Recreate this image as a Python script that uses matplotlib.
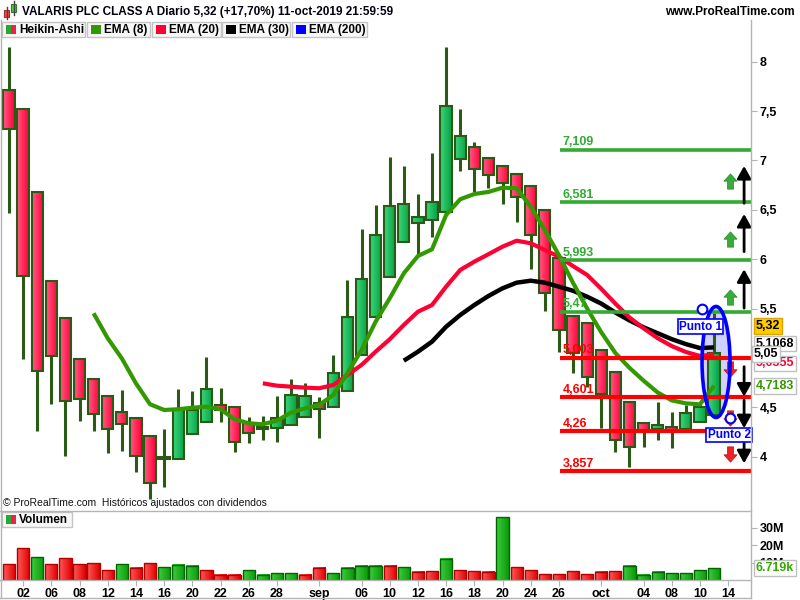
import numpy as np
import matplotlib
matplotlib.use('Agg')
import matplotlib.pyplot as plt
from matplotlib.patches import Rectangle, Ellipse
from matplotlib.path import Path
from matplotlib.colors import to_rgb
from matplotlib.transforms import blended_transform_factory

plt.rcParams['font.family'] = ['Liberation Sans', 'DejaVu Sans']

# ---------------- data ----------------
ha_open = [7.713, 7.521, 6.681, 5.782, 5.408, 4.989, 4.787, 4.615, 4.453, 4.395,
           4.210, 3.974, 3.980, 4.230, 4.354, 4.524, 4.506, 4.338, 4.277, 4.288,
           4.321, 4.399, 4.541, 4.506, 4.668, 5.030, 5.411, 5.823, 6.177, 6.364,
           6.397, 6.481, 7.015, 7.133, 7.028, 6.944, 6.863, 6.744, 6.498, 6.009,
           5.425, 5.357, 5.080, 4.861, 4.551, 4.338, 4.277, 4.297, 4.277, 4.354,
           4.422]
ha_close = [7.318, 5.830, 4.868, 5.020, 4.567, 4.581, 4.432, 4.277, 4.328, 4.007,
            3.737, 4.000, 4.483, 4.473, 4.686, 4.473, 4.152, 4.237, 4.304, 4.389,
            4.625, 4.615, 4.480, 4.844, 5.418, 5.796, 6.245, 6.542, 6.556, 6.424,
            6.576, 7.551, 7.248, 6.910, 6.853, 6.775, 6.633, 6.245, 5.655, 5.283,
            5.047, 4.810, 4.635, 4.169, 4.101, 4.270, 4.320, 4.270, 4.446, 4.506,
            5.047]
ha_high = [8.150, 7.521, 6.681, 5.782, 5.408, 4.989, 4.787, 4.615, 4.675, 4.395,
           4.210, 4.281, 4.682, 4.665, 5.007, 4.693, 4.506, 4.399, 4.412, 4.615,
           4.784, 4.743, 4.601, 5.030, 5.789, 6.306, 6.549, 7.032, 6.944, 6.660,
           7.072, 8.146, 7.518, 7.190, 7.028, 6.944, 6.863, 6.744, 6.498, 6.009,
           5.425, 5.357, 5.080, 4.861, 4.551, 4.338, 4.557, 4.456, 4.523, 4.557,
           5.452]
ha_low = [6.471, 4.986, 4.263, 4.531, 4.010, 4.365, 4.263, 4.034, 4.061, 3.848,
          3.569, 3.696, 3.980, 4.230, 4.354, 4.348, 4.044, 4.136, 4.169, 4.152,
          4.321, 4.399, 4.186, 4.506, 4.668, 5.030, 5.411, 5.823, 6.177, 6.043,
          6.222, 6.481, 6.893, 6.684, 6.718, 6.559, 6.380, 5.898, 5.480, 5.063,
          4.844, 4.709, 4.287, 4.051, 3.899, 4.101, 4.169, 4.085, 4.277, 4.354,
          4.400]

volume_m = [9.1, 18.1, 13.0, 9.1, 12.4, 9.1, 9.5, 5.7, 9.1, 6.9,
            9.7, 7.4, 8.6, 8.0, 5.7, 2.9, 2.9, 5.7, 2.9, 4.0,
            4.0, 2.9, 6.9, 4.0, 6.9, 8.0, 8.0, 8.0, 7.4, 4.6,
            5.1, 12.0, 5.7, 5.1, 4.6, 36.0, 7.4, 5.7, 3.4, 3.4,
            5.1, 3.4, 4.6, 5.1, 8.0, 2.9, 4.6, 4.0, 4.0, 5.7,
            6.719]
volume_up = [0, 0, 1, 0, 0, 0, 0, 0, 1, 0,
             0, 1, 1, 1, 0, 0, 0, 1, 1, 1,
             1, 0, 0, 1, 1, 1, 1, 0, 1, 0,
             0, 1, 0, 0, 0, 1, 0, 0, 0, 0,
             0, 0, 0, 0, 1, 1, 1, 1, 1, 1,
             1]

ema8 = [None] * 6 + [5.452, 5.199, 4.996, 4.743, 4.531, 4.473, 4.480, 4.496, 4.506,
                     4.480, 4.379, 4.338, 4.328, 4.365, 4.446, 4.490, 4.524, 4.625,
                     4.844, 5.080, 5.367, 5.604, 5.857, 6.032, 6.100, 6.448, 6.607,
                     6.660, 6.681, 6.724, 6.718, 6.532, 6.296, 6.040, 5.760, 5.500,
                     5.260, 5.050, 4.900, 4.770, 4.650, 4.570, 4.540, 4.530, 4.7183]
ema20 = [None] * 18 + [4.743, 4.719, 4.709, 4.699, 4.693, 4.726, 4.827, 4.929, 5.063,
                       5.189, 5.334, 5.468, 5.536, 5.722, 5.891, 5.975, 6.050, 6.127,
                       6.187, 6.161, 6.093, 6.025, 5.930, 5.840, 5.700, 5.550, 5.410,
                       5.300, 5.200, 5.120, 5.060, 5.020, 5.0355]
ema30 = [None] * 28 + [4.972, 5.063, 5.165, 5.316, 5.435, 5.536, 5.627, 5.705, 5.762,
                       5.782, 5.762, 5.722, 5.680, 5.620, 5.550, 5.460, 5.380, 5.310,
                       5.250, 5.190, 5.140, 5.100, 5.1068]

green_levels = [7.109, 6.581, 5.993, 5.47]
green_level_labels = ['7,109', '6,581', '5,993', '5,47']
red_levels = [5.003, 4.601, 4.26, 3.857]
red_level_labels = ['5,003', '4,601', '4,26', '3,857']

price_ticks = [4, 4.5, 5.5, 6, 6.5, 7, 7.5, 8]
price_tick_labels = ['4', '4,5', '5,5', '6', '6,5', '7', '7,5', '8']
vol_ticks = [10, 20, 30]
vol_tick_labels = ['10M', '20M', '30M']
date_pos = [1, 3, 5, 7, 9, 11, 13, 15, 17, 19, 22, 25, 27, 29, 31, 33, 35, 37, 39, 42, 45, 47, 49, 51]
date_labels = ['02', '06', '08', '12', '14', '16', '20', '22', '26', '28', 'sep', '06',
               '10', '12', '16', '18', '20', '24', '26', 'oct', '04', '08', '10', '14']

up_targets = [(6.566, 6.944), (6.076, 6.458), (5.504, 5.898)]
down_targets = [(4.911, 4.608), (4.574, 4.288), (4.237, 3.933)]
green_marks = [6.795, 6.205, 5.612]
red_marks = [4.888, 4.390, 4.027]

last_price = 5.32
last_volume = 6.719
title = 'VALARIS PLC CLASS A Diario 5,32 (+17,70%) 11-oct-2019 21:59:59'

# ---------------- styles ----------------
EDGE = '#2b5a17'
RED_L, RED_R = '#ff5a84', '#ff0036'
GRN_L, GRN_R = '#3ad77a', '#06a043'
VRED_L, VRED_R = '#ff5a5a', '#e00000'
VGRN_L, VGRN_R = '#3ccc3c', '#0a9a0a'
C_EMA8 = '#339900'
C_EMA20 = '#ff0033'
C_EMA30 = '#000000'
C_EMA200 = '#0000ff'
C_LVL_G = '#33aa33'
C_LVL_R = '#ff0000'
GRID_GRAY = '#b4b4b4'


def hgrad(c_left, c_right, m=24):
    a = np.array(to_rgb(c_left))
    b = np.array(to_rgb(c_right))
    t = np.linspace(0, 1, m)[None, :, None]
    return a[None, None, :] * (1 - t) + b[None, None, :] * t


W, H = 800, 600
fig = plt.figure(figsize=(8, 6), dpi=100)
fig.patch.set_facecolor('white')

ax = fig.add_axes([1 / W, 1 - 510 / H, 750 / W, 490 / H])
axv = fig.add_axes([1 / W, 1 - 580 / H, 750 / W, 70 / H])

n = len(ha_open)
idx = np.arange(n)
XL = (-0.567, 52.62)
for a in (ax, axv):
    for s in a.spines.values():
        s.set_visible(False)

red_img = hgrad(RED_L, RED_R)
grn_img = hgrad(GRN_L, GRN_R)
# candles
for i in range(n):
    o, h, l, c = ha_open[i], ha_high[i], ha_low[i], ha_close[i]
    up = c >= o
    ax.plot([i, i], [l, h], color=EDGE, lw=2.2, solid_capstyle='butt', zorder=2)
    lo, hi = min(o, c), max(o, c)
    hi = max(hi, lo + 0.004)
    ax.imshow(grn_img if up else red_img, extent=(i - 0.4, i + 0.4, lo, hi),
              aspect='auto', interpolation='bilinear', zorder=3)
    ax.add_patch(Rectangle((i - 0.4, lo), 0.8, hi - lo, fc='none', ec=EDGE, lw=1.5, zorder=3.1))

# highlight ellipse fill (under candles)
ell_c = (50.14, 4.959)
ax.add_patch(Ellipse(ell_c, 1.986, 1.124, fc=(0.55, 0.55, 1.0, 0.4), ec='none', zorder=1))

# EMAs
e8 = np.array(ema8, dtype=float)
e20 = np.array(ema20, dtype=float)
e30 = np.array(ema30, dtype=float)
ax.plot(idx, e30, color=C_EMA30, lw=3.2, zorder=4, solid_capstyle='butt')
ax.plot(idx, e20, color=C_EMA20, lw=3.0, zorder=4, solid_capstyle='butt')
ax.plot(idx, e8, color=C_EMA8, lw=3.0, zorder=4, solid_capstyle='butt')

# levels
lvl_x0 = 39.08
for lv, lb in zip(green_levels, green_level_labels):
    ax.hlines(lv, lvl_x0, XL[1], color=C_LVL_G, lw=2.6, zorder=5)
    ax.annotate(lb, xy=(lvl_x0, lv), xytext=(2, 3), textcoords='offset points',
                color=C_LVL_G, fontsize=9, weight='bold', va='baseline', ha='left', zorder=5)
for lv, lb in zip(red_levels, red_level_labels):
    ax.hlines(lv, lvl_x0, XL[1], color=C_LVL_R, lw=3.0, zorder=5)
    ax.annotate(lb, xy=(lvl_x0, lv), xytext=(2, 3), textcoords='offset points',
                color=C_LVL_R, fontsize=9, weight='bold', va='baseline', ha='left', zorder=5)

# block arrows
up_path = Path([(-0.2, -0.5), (0.2, -0.5), (0.2, 0.02), (0.43, 0.02), (0, 0.5),
                (-0.43, 0.02), (-0.2, 0.02), (-0.2, -0.5)], closed=True)
dn_path = Path([(-0.2, 0.5), (0.2, 0.5), (0.2, -0.02), (0.43, -0.02), (0, -0.5),
                (-0.43, -0.02), (-0.2, -0.02), (-0.2, 0.5)], closed=True)
xa = 51.13
ax.plot([xa] * len(green_marks), green_marks, ls='none', marker=up_path, ms=11,
        color='#3aaa3a', mec='#2a8a2a', mew=0.5, zorder=6)
ax.plot([xa] * len(red_marks), red_marks, ls='none', marker=dn_path, ms=11,
        color='#ee2222', mec='#bb1111', mew=0.5, zorder=6)

# black target arrows
xb = 52.13
for a0, a1 in up_targets + down_targets:
    ax.annotate('', xy=(xb, a1), xytext=(xb, a0),
                arrowprops=dict(arrowstyle='-|>,head_length=0.75,head_width=0.42',
                                color='black', lw=2.0, shrinkA=0, shrinkB=0,
                                mutation_scale=10),
                annotation_clip=False, zorder=7)

# ellipse outline and points
ax.add_patch(Ellipse(ell_c, 1.986, 1.124, fc='none', ec='#0000ff', lw=2.6, zorder=7))
ax.plot([49.13], [5.493], 'o', ms=7, mfc='white', mec='#0000ff', mew=1.5, zorder=8)
ax.plot([51.13], [4.389], 'o', ms=7, mfc='white', mec='#0000ff', mew=1.5, zorder=8)
ax.text(49.04, 5.318, 'Punto 1', ha='center', va='center', color='#0000ff',
        weight='bold', fontsize=8.5, zorder=9, clip_on=False,
        bbox=dict(boxstyle='square,pad=0.12', fc='white', ec='#0000ff', lw=1.2))
ax.text(51.06, 4.220, 'Punto 2', ha='center', va='center', color='#0000ff',
        weight='bold', fontsize=8.5, zorder=9, clip_on=False,
        bbox=dict(boxstyle='square,pad=0.12', fc='white', ec='#0000ff', lw=1.2))

ax.set_xlim(*XL)
ax.set_ylim(3.460, 8.422)

# price axis on the right
ax.yaxis.tick_right()
ax.set_yticks(price_ticks)
ax.set_yticklabels(price_tick_labels)
ax.tick_params(axis='y', length=4, color=GRID_GRAY, pad=2, labelsize=9)
for t in ax.get_yticklabels():
    t.set_fontweight('bold')
ax.tick_params(axis='x', bottom=False, labelbottom=False)

tr = blended_transform_factory(ax.transAxes, ax.transData)
xr = (756 - 1) / 750


def side_label(axis, trans, x, y, txt, color, fc, ec, z):
    axis.text(x, y, txt, transform=trans, ha='left', va='center', color=color,
              fontsize=9, weight='bold', clip_on=False, zorder=z,
              bbox=dict(boxstyle='square,pad=0.15', fc=fc, ec=ec, lw=1))


side_label(ax, tr, xr, last_price, '5,32', 'black', '#ffcc00', '#d9a300', 10)
side_label(ax, tr, xr, 4.944, '5,0355', C_EMA20, 'white', '#c0c0c0', 10)
side_label(ax, tr, xr, 5.146, '5,1068', 'black', 'white', '#c0c0c0', 11)
side_label(ax, tr, (754 - 1) / 750, 5.040, '5,05', 'black', 'white', '#c0c0c0', 12)
side_label(ax, tr, xr, e8[-1], '4,7183', C_EMA8, 'white', '#c0c0c0', 10)

# volume
vr_img = hgrad(VRED_L, VRED_R)
vg_img = hgrad(VGRN_L, VGRN_R)
bw = 0.87
for i in range(n):
    up = volume_up[i]
    axv.imshow(vg_img if up else vr_img, extent=(i - bw / 2, i + bw / 2, 0, volume_m[i]),
               aspect='auto', interpolation='bilinear', zorder=3)
axv.bar(idx, volume_m, width=bw, color='none',
        edgecolor=['#006400' if u else '#b00000' for u in volume_up], lw=1.0, zorder=3.1)
axv.set_xlim(*XL)
axv.set_ylim(0, 40)
axv.yaxis.tick_right()
axv.set_yticks(vol_ticks)
axv.set_yticklabels(vol_tick_labels)
axv.tick_params(axis='y', length=4, color=GRID_GRAY, pad=2, labelsize=9)
for t in axv.get_yticklabels():
    t.set_fontweight('bold')
axv.set_xticks(date_pos)
axv.set_xticklabels(date_labels)
axv.tick_params(axis='x', length=4, color=GRID_GRAY, pad=1.5, labelsize=9, direction='out')
for t in axv.get_xticklabels():
    t.set_fontweight('bold')
trv = blended_transform_factory(axv.transAxes, axv.transData)
side_label(axv, trv, xr, last_volume, '6.719k', '#33aa00', 'white', '#c0c0c0', 10)

# ---------------- overlay (header, legends, frame) ----------------
ov = fig.add_axes([0, 0, 1, 1], zorder=20)
ov.set_xlim(0, W)
ov.set_ylim(H, 0)
ov.axis('off')

# frame lines
ov.plot([1, 1], [20, 598], color=GRID_GRAY, lw=1)
ov.plot([751, 751], [20, 598], color=GRID_GRAY, lw=1)
ov.plot([0, 751], [510.5, 510.5], color=GRID_GRAY, lw=1)
ov.plot([0, 751], [580, 580], color=GRID_GRAY, lw=1)
ov.plot([0, 751], [598, 598], color=GRID_GRAY, lw=1)

# header icon
ov.plot([6.5, 6.5], [7, 19], color='#444444', lw=1)
ov.add_patch(Rectangle((4, 10), 5, 7, fc='#ff4444', ec='#993333', lw=0.8))
ov.plot([13.5, 13.5], [1, 15], color='#444444', lw=1)
ov.add_patch(Rectangle((11, 4), 5, 8, fc='#44cc44', ec='#337733', lw=0.8))

ov.text(22, 12, title, fontsize=8.5, weight='bold', va='center', ha='left', color='#000011')
ov.text(795, 12, 'www.ProRealTime.com', fontsize=8.5, weight='bold', va='center', ha='right')


def legend_box(x0, x1, y0, y1, colors, label):
    ov.add_patch(Rectangle((x0, y0), x1 - x0, y1 - y0, fc='#f7f7f7', ec='#c4c4c4', lw=1))
    sq_y0 = y0 + 3
    sq_h = (y1 - y0) - 6
    sq_w = 10.5
    if len(colors) == 1:
        ov.add_patch(Rectangle((x0 + 3.5, sq_y0), sq_w, sq_h, fc=colors[0], ec='none'))
    else:
        ov.add_patch(Rectangle((x0 + 3.5, sq_y0), sq_w / 2, sq_h, fc=colors[0], ec='none'))
        ov.add_patch(Rectangle((x0 + 3.5 + sq_w / 2, sq_y0), sq_w / 2, sq_h, fc=colors[1], ec='none'))
    ov.text(x0 + 17, (y0 + y1) / 2 + 0.5, label, fontsize=8.5, weight='bold',
            va='center', ha='left', color='black')


legend_box(2, 85, 22, 37, ['#22aa33', '#ee2244'], 'Heikin-Ashi')
legend_box(87, 150, 22, 37, [C_EMA8], 'EMA (8)')
legend_box(152, 221, 22, 37, [C_EMA20], 'EMA (20)')
legend_box(222, 290, 22, 37, [C_EMA30], 'EMA (30)')
legend_box(292, 367, 22, 37, [C_EMA200], 'EMA (200)')

ov.text(3, 503, '\u00a9 ProRealTime.com  Hist\u00f3ricos ajustados con dividendos',
        fontsize=7.5, va='center', ha='left', color='#111111')
legend_box(2, 72, 512, 527, ['#22aa33', '#ee2244'], 'Volumen')

fig.savefig('out.png', dpi=100, facecolor='white')
